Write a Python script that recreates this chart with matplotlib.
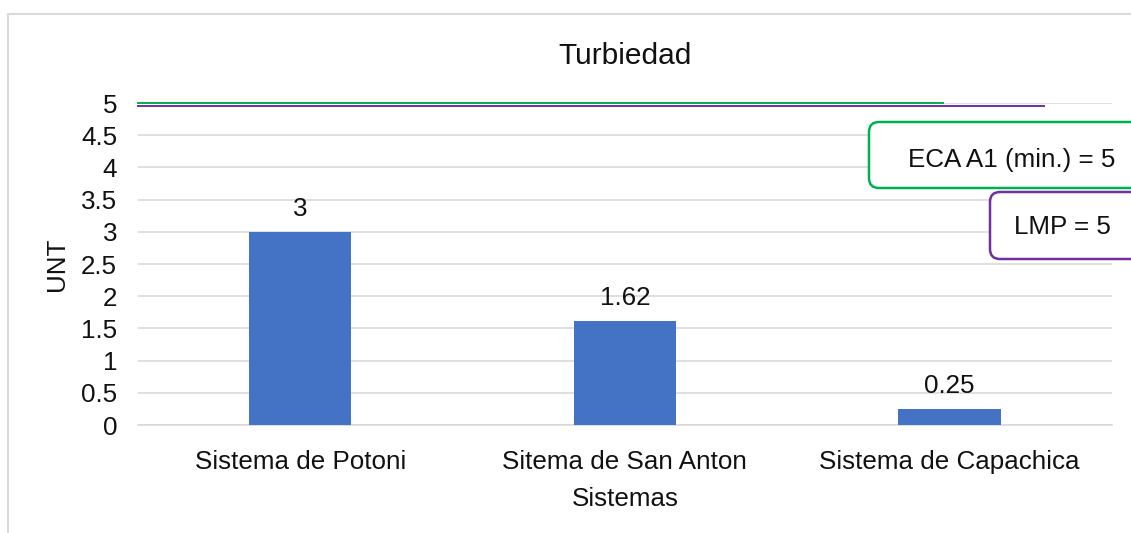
import matplotlib.pyplot as plt
from matplotlib.patches import FancyBboxPatch, Rectangle
from matplotlib.transforms import IdentityTransform

plt.rcParams['font.family'] = ['Liberation Sans', 'DejaVu Sans']

## data
sistemas = ['Sistema de Potoni', 'Sitema de San Anton', 'Sistema de Capachica']
turbiedad = [3, 1.62, 0.25]
labels = ['3', '1.62', '0.25']
eca_a1 = 5
lmp = 5

W, H = 1131, 533
fig = plt.figure(figsize=(W / 100, H / 100), dpi=100)
ax = fig.add_axes([0.122, 0.2026, 0.861, 0.604])
FS = 18.7

x = range(len(sistemas))
bars = ax.bar(x, turbiedad, width=0.315, color='#4472C4', zorder=3)
for b, t in zip(bars, labels):
    ax.text(b.get_x() + b.get_width() / 2, b.get_height() + 0.17, t,
            ha='center', va='bottom', fontsize=FS, color='#111111')

# reference limits (short horizontal lines near the top)
ax.plot([-0.5, 1.98], [eca_a1, eca_a1], color='#00B050', lw=1.4, zorder=4, clip_on=False)
ax.plot([-0.5, 2.29], [lmp - 0.05, lmp - 0.05], color='#7030A0', lw=1.4, zorder=4, clip_on=False)

ax.set_xlim(-0.5, 2.5)
ax.set_ylim(0, 5)
ax.set_yticks([0, 0.5, 1, 1.5, 2, 2.5, 3, 3.5, 4, 4.5, 5])
ax.set_yticklabels(['0', '0.5', '1', '1.5', '2', '2.5', '3', '3.5', '4', '4.5', '5'])
ax.set_xticks(list(x))
ax.set_xticklabels(sistemas)
ax.tick_params(axis='both', length=0, labelsize=FS, colors='#111111')
ax.tick_params(axis='x', pad=18)
ax.tick_params(axis='y', pad=15)
ax.grid(axis='y', color='#d9d9d9', lw=1.2, zorder=0)
for s in ['top', 'right', 'left']:
    ax.spines[s].set_visible(False)
ax.spines['bottom'].set_color('#d9d9d9')
ax.spines['bottom'].set_linewidth(1.2)

ax.set_title('Turbiedad', fontsize=21.5, pad=28, color='#111111')
ax.set_xlabel('Sistemas', fontsize=FS, labelpad=9, color='#111111')
ax.set_ylabel('UNT', fontsize=FS, labelpad=9, color='#111111')

# chart border
fig.patches.append(Rectangle((8 / W, -0.1), 1.2, 1.1 - 14 / H, transform=fig.transFigure,
                             fill=False, edgecolor='#d9d9d9', lw=1.5))

# callout boxes (pixel coordinates)
px = IdentityTransform()
fig.patches.append(FancyBboxPatch((869, H - 188), 300, 66,
                                  boxstyle='round,pad=0,rounding_size=10',
                                  transform=px, facecolor='white',
                                  edgecolor='#00B050', lw=1.8))
fig.text(1012 / W, 1 - 160 / H, 'ECA A1 (min.) = ' + str(eca_a1), ha='center', va='center',
         fontsize=FS, color='#111111')
fig.patches.append(FancyBboxPatch((990, H - 259), 200, 67,
                                  boxstyle='round,pad=0,rounding_size=10',
                                  transform=px, facecolor='white',
                                  edgecolor='#7030A0', lw=1.8))
fig.text(1062 / W, 1 - 227 / H, 'LMP = ' + str(lmp), ha='center', va='center',
         fontsize=FS, color='#111111')

plt.savefig('out.png', dpi=100)
